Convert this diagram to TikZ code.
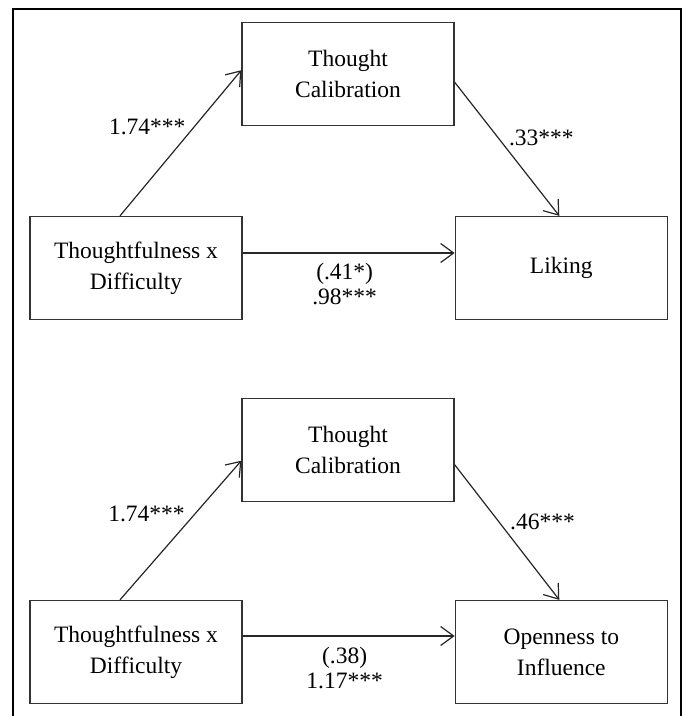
\documentclass[tikz,border=0pt]{standalone}
\usepackage{fontspec}
\setmainfont{Liberation Serif}
\usetikzlibrary{positioning, arrows.meta}
\tikzstyle{var} = [rectangle, minimum width=212pt, minimum height=103pt,
text centered, align=center, draw=black!80, line width=1.3pt,
font=\fontsize{23.5}{31}\selectfont]
\tikzstyle{coef} = [inner sep=0pt, align=center,
font=\fontsize{23.5}{24.5}\selectfont]
\tikzstyle{arrow} =
[line width=1.2pt, draw=black!85, ->, >={Straight Barb[length=13pt,width=19pt]}]

\begin{document}
\begin{tikzpicture}[node distance=212pt]

\useasboundingbox (0,0) rectangle (686pt,-716pt);
\draw[line width=2.3pt] (13pt,-716pt) -- (13pt,-9pt) -- (681pt,-9pt) -- (681pt,-716pt);

% model 1: liking
\node(cause)[var] at (136pt,-268pt){Thoughtfulness x\\Difficulty};
\node(calib)[var, above=90pt of cause, xshift=212pt]{Thought\\Calibration};
\node(liking)[var, right=of cause]{Liking};

\draw[arrow]([xshift=-16pt]cause.north) -- node[coef, pos=0.61, anchor=east, xshift=-8pt]{1.74***}([yshift=3.5pt]calib.west);
\draw[arrow]([yshift=-8.5pt]calib.east) -- node[coef, pos=0.4, anchor=west, xshift=12pt, yshift=-2pt]{.33***}([xshift=-2pt]liking.north);
\draw[arrow]([yshift=15pt]cause.east) -- node[coef, midway, anchor=north, xshift=-4pt, yshift=-10pt]{(.41*)\\.98***}([yshift=15pt]liking.west);

% model 2: openness
\node(cause2)[var] at (136pt,-652pt){Thoughtfulness x\\Difficulty};
\node(calib2)[var, above=98pt of cause2, xshift=212pt]{Thought\\Calibration};
\node(open)[var, right=of cause2]{Openness to\\Influence};

\draw[arrow]([xshift=-16pt]cause2.north) -- node[coef, pos=0.62, anchor=east, xshift=-10pt]{1.74***}([yshift=-11pt]calib2.west);
\draw[arrow]([yshift=-15pt]calib2.east) -- node[coef, pos=0.42, anchor=west, xshift=11pt]{.46***}([xshift=-2pt]open.north);
\draw[arrow]([yshift=16pt]cause2.east) -- node[coef, midway, anchor=north, xshift=-4pt, yshift=-11pt]{(.38)\\1.17***}([yshift=16pt]open.west);

\end{tikzpicture}
\end{document}
